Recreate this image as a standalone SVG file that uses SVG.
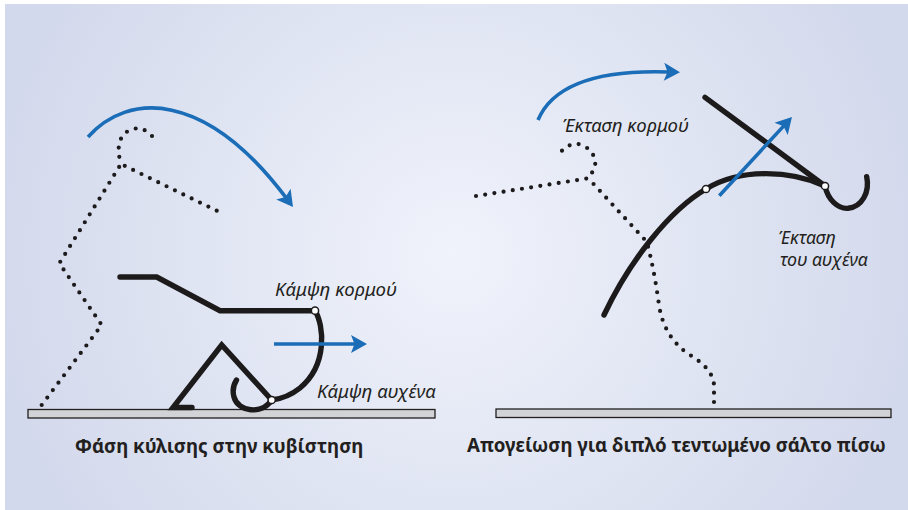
<svg xmlns="http://www.w3.org/2000/svg" width="908" height="510" viewBox="0 0 908 510">
  <defs>
    <radialGradient id="bg" gradientUnits="userSpaceOnUse" cx="455" cy="255" r="470">
      <stop offset="0" stop-color="#f0f3fb"/>
      <stop offset="1" stop-color="#d3d9ec"/>
    </radialGradient>
    <marker id="head" markerUnits="userSpaceOnUse" markerWidth="24" markerHeight="24" refX="5" refY="0" orient="auto" overflow="visible">
      <path d="M0,-9 L16,0 L0,9 L3.5,0 Z" fill="#1a6db6"/>
    </marker>
    <style>
      .solid { fill: none; stroke: #1c1a1b; stroke-width: 5.4; stroke-linecap: round; stroke-linejoin: miter; }
      .dots { fill: none; stroke: #1c1a1b; stroke-width: 4.2; stroke-linecap: round; stroke-dasharray: 0 9.3; }
      .move { fill: none; stroke: #1a6db6; stroke-width: 3.6; marker-end: url(#head); }
      .joint { fill: #ffffff; stroke: #1c1a1b; stroke-width: 1.5; }
      .floor { fill: #d2d3d6; stroke: #231f20; stroke-width: 1.3; }
      .label { font-family: "Noto Sans", "Open Sans", sans-serif; font-style: italic; font-size: 18.6px; fill: #231f20; }
      .small { font-size: 17.8px; }
      .title { font-family: "Noto Sans", "Open Sans", sans-serif; font-weight: bold; font-size: 18.7px; fill: #231f20; }
    </style>
  </defs>

  <rect x="5" y="4" width="903" height="506" fill="url(#bg)"/>

  <!-- forward roll -->
  <g id="roll">
    <rect class="floor" x="28" y="409.5" width="407" height="8.5"/>
    <path class="dots" d="M152,136 Q141,124 128,131 Q114,140 121,164"/>
    <path class="dots" d="M216.7,210.7 L121,164"/>
    <path class="dots" d="M41.7,405 L101.7,325 L59.3,263.3 L121,164"/>
    <path class="solid" d="M120,277 L156.7,277 L220,310.7 L315,310.7"/>
    <path class="solid" d="M315,310.7 C324,325 328,365 300,388 C290,396 280,399 271.7,400"/>
    <path class="solid" d="M271.7,400 C262,415 238,412 234,397 C232,390 234,384 236.5,380"/>
    <path class="solid" d="M271.7,400 L221.7,345 L173,407.5 L192,407.5"/>
    <circle class="joint" cx="315" cy="310.7" r="3.6"/>
    <circle class="joint" cx="271.7" cy="400" r="3.6"/>
    <text class="label" x="275" y="296">Κάμψη κορμού</text>
    <text class="label" x="317" y="398">Κάμψη αυχένα</text>
    <text class="title" x="75" y="453">Φάση κύλισης στην κυβίστηση</text>
  </g>

  <!-- take-off for the double layout back somersault -->
  <g id="takeoff">
    <rect class="floor" x="496" y="409" width="395" height="8.5"/>
    <path class="dots" d="M562,150.7 Q572,141 582,145 Q597,152 595,168 L588.3,178.3"/>
    <path class="dots" d="M476,196 L588.3,178.3"/>
    <path class="dots" d="M714,402 L714,385 Q713,369 690,355 Q664,338 659,305 Q654,268 646.7,241.7 L588.3,178.3"/>
    <path class="solid" d="M604,315 C630,260 670,210 706,189 C740,168 790,170 825,186"/>
    <path class="solid" d="M705,97.3 L825,186"/>
    <path class="solid" d="M825,186 C828,200 838,209 848,208.3 C862,207 870,192 866.7,176.7"/>
    <circle class="joint" cx="706" cy="189" r="3.6"/>
    <circle class="joint" cx="825" cy="186" r="3.6"/>
    <text class="label" x="562" y="132">Έκταση κορμού</text>
    <text class="label small"><tspan x="778" y="244">Έκταση</tspan><tspan x="780" y="266">του αυχένα</tspan></text>
    <text class="title" x="467" y="452">Απογείωση για διπλό τεντωμένο σάλτο πίσω</text>
  </g>

  <!-- rotation and travel directions -->
  <g id="connectors">
    <path class="move" d="M88,137 C128,92 205,90 286.4,198.2"/>
    <path class="move" d="M274,344 L356,344"/>
    <path class="move" d="M538,120 C555,80 610,70 669,72"/>
    <path class="move" d="M719.3,195.7 L784.5,125.1"/>
  </g>
</svg>
